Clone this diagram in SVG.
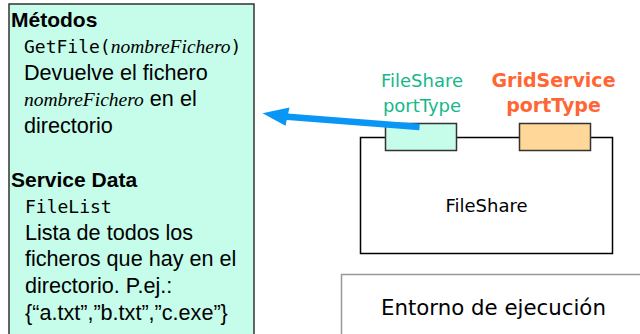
<svg xmlns="http://www.w3.org/2000/svg" width="640" height="334" viewBox="0 0 640 334">
<style>
.body{font-family:"Liberation Sans",Arial,sans-serif;font-size:21.6px;fill:#000}
.bold{font-family:"Liberation Sans",Arial,sans-serif;font-size:21px;font-weight:bold;fill:#000}
.mono{font-family:"DejaVu Sans Mono",monospace;font-size:18px;fill:#000}
.ital{font-family:"Liberation Serif","Times New Roman",serif;font-style:italic;font-size:19.5px;fill:#000}
.ver{font-family:"DejaVu Sans",Verdana,sans-serif;font-size:18px}
.vbold{font-family:"DejaVu Sans",Verdana,sans-serif;font-size:19px;font-weight:bold;fill:#ff6633}
.big{font-family:"DejaVu Sans",Verdana,sans-serif;font-size:21.3px;fill:#000}
</style>
<rect width="640" height="334" fill="#fff"/>
<g id="info">
<rect x="9" y="4" width="245" height="340" fill="#c6fcea" stroke="#333" stroke-width="1.5"/>
<text class="bold" x="11" y="27">Métodos</text>
<text x="24" y="53"><tspan class="mono">GetFile(</tspan><tspan class="ital">nombreFichero</tspan><tspan class="mono">)</tspan></text>
<text class="body" x="24" y="80">Devuelve el fichero</text>
<text x="24" y="106"><tspan class="ital">nombreFichero</tspan><tspan class="body"> en el</tspan></text>
<text class="body" x="24" y="133">directorio</text>
<text class="bold" x="11" y="187">Service Data</text>
<text class="mono" x="25" y="213">FileList</text>
<text class="body" x="25" y="240">Lista de todos los</text>
<text class="body" x="25" y="266">ficheros que hay en el</text>
<text class="body" x="25" y="293">directorio. P.ej.:</text>
<text class="body" x="25" y="320">{“a.txt”,”b.txt”,”c.exe”}</text>
</g>
<g id="fileshare">
<rect x="360.5" y="137.5" width="252" height="116" fill="#fff" stroke="#000" stroke-width="1.5"/>
<text class="ver" x="486.5" y="212" text-anchor="middle" fill="#000">FileShare</text>
</g>
<g id="fileshare-port">
<rect x="385.5" y="123.5" width="71" height="27" fill="#c6fcea" stroke="#333" stroke-width="1.5"/>
<text class="ver" x="422" y="87" text-anchor="middle" fill="#14b88a">FileShare</text>
<text class="ver" x="422" y="112" text-anchor="middle" fill="#14b88a">portType</text>
</g>
<g id="gridservice-port">
<rect x="519.5" y="123.5" width="71" height="27" fill="#ffd899" stroke="#333" stroke-width="1.5"/>
<text class="vbold" x="553.5" y="87" text-anchor="middle">GridService</text>
<text class="vbold" x="553.5" y="112" text-anchor="middle">portType</text>
</g>
<g id="entorno">
<rect x="341.5" y="274.5" width="310" height="80" fill="#fff" stroke="#999" stroke-width="1.5"/>
<text class="big" x="381" y="315">Entorno de ejecución</text>
</g>
<g id="connectors">
<path d="M419.5 127 L284 116.5" stroke="#0a96f5" stroke-width="6.5" fill="none"/>
<polygon points="262.5,113.3 289.5,107.5 285.5,125.7" fill="#0a96f5"/>
</g>
</svg>
